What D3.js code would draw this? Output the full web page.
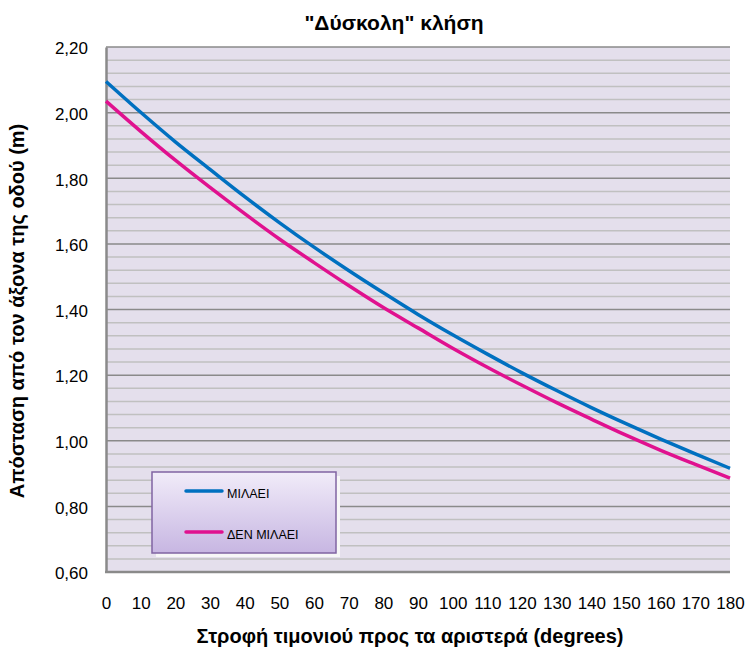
<!DOCTYPE html>
<html><head><meta charset="utf-8">
<script src="https://cdn.jsdelivr.net/npm/d3@7"></script>
<style>body{margin:0;background:#fff}svg{display:block}text{font-family:"Liberation Sans",Arial,sans-serif}</style>
</head><body>
<svg id="chart" width="745" height="649"></svg>
<script>
const degrees = [0,10,20,30,40,50,60,70,80,90,100,110,120,130,140,150,160,170,180];
const milaei = [2.095,2.001,1.911,1.827,1.744,1.665,1.590,1.519,1.451,1.385,1.323,1.264,1.207,1.153,1.101,1.052,1.005,0.960,0.916];
const denMilaei = [2.035,1.943,1.855,1.772,1.692,1.615,1.543,1.473,1.406,1.344,1.282,1.224,1.169,1.116,1.066,1.017,0.971,0.928,0.886];
const seriesNames = ["ΜΙΛΑΕΙ","ΔΕΝ ΜΙΛΑΕΙ"];
const seriesColors = ["#0070c0","#e0118f"];
const yTicks = [0.60,0.80,1.00,1.20,1.40,1.60,1.80,2.00,2.20];
const title = "\"Δύσκολη\" κλήση";
const xTitle = "Στροφή τιμονιού προς τα αριστερά (degrees)";
const yTitle = "Απόσταση από τον άξονα της οδού (m)";

const svg = d3.select("#chart");
const L=106,R=730,T=47,B=572;
const x = d3.scaleLinear().domain([0,180]).range([L,R]);
const y = d3.scaleLinear().domain([0.6,2.2]).range([B,T]);

svg.append("rect").attr("x",L).attr("y",T).attr("width",R-L).attr("height",B-T).attr("fill","#e4dfec");

// minor grid
const minor = d3.range(0.64,2.2001,0.04).filter(v=>Math.abs(Math.round(v*5)-v*5)>0.01);
svg.append("g").selectAll("line").data(minor).join("line")
  .attr("x1",L).attr("x2",R).attr("y1",d=>y(d)).attr("y2",d=>y(d))
  .attr("stroke","#c0c0c0").attr("stroke-width",1.5);
svg.append("g").selectAll("line").data(yTicks.slice(1)).join("line")
  .attr("x1",L).attr("x2",R).attr("y1",d=>y(d)).attr("y2",d=>y(d))
  .attr("stroke","#8a8a8a").attr("stroke-width",1.5);

// axes
const yAxis = d3.axisLeft(y).tickValues(yTicks).tickSize(0).tickPadding(18).tickFormat(d=>d3.format(".2f")(d).replace(".",","));
const gy = svg.append("g").attr("transform",`translate(${L},0)`).call(yAxis);
gy.select(".domain").attr("stroke","#8a8a8a").attr("stroke-width",2.5);
gy.selectAll("text").attr("font-size",17).attr("fill","#000").attr("dy","0.4em");
const xAxis = d3.axisBottom(x).tickValues(degrees).tickSize(0).tickPadding(25).tickFormat(d3.format("d"));
const gx = svg.append("g").attr("transform",`translate(0,${B})`).call(xAxis);
gx.select(".domain").remove();
gx.selectAll("text").attr("font-size",17).attr("fill","#000");
svg.append("line").attr("x1",L-1).attr("x2",R).attr("y1",B).attr("y2",B).attr("stroke","#8a8a8a").attr("stroke-width",2.5);

// lines
const line = d3.line().x((d,i)=>x(degrees[i])).y(d=>y(d)).curve(d3.curveMonotoneX);
[milaei,denMilaei].forEach((s,i)=>{
  svg.append("path").attr("d",line(s)).attr("fill","none").attr("stroke",seriesColors[i]).attr("stroke-width",3.5).attr("stroke-linejoin","round");
});

// legend
const defs = svg.append("defs");
const grad = defs.append("linearGradient").attr("id","lg").attr("x1",0).attr("y1",0).attr("x2",0).attr("y2",1);
grad.append("stop").attr("offset","0%").attr("stop-color","#f1ecf9");
grad.append("stop").attr("offset","100%").attr("stop-color","#c7b6e2");
const lx=152, ly=472, lw=184, lh=81;
svg.append("rect").attr("x",lx+4).attr("y",ly+4).attr("width",lw).attr("height",lh).attr("fill","#f7f7f7");
svg.append("rect").attr("x",lx).attr("y",ly).attr("width",lw).attr("height",lh).attr("fill","url(#lg)").attr("stroke","#8064a2").attr("stroke-width",1.5);
seriesNames.forEach((n,i)=>{
  const yy = [491,532][i];
  svg.append("line").attr("x1",186).attr("x2",222).attr("y1",yy).attr("y2",yy).attr("stroke",seriesColors[i]).attr("stroke-width",3.5).attr("stroke-linecap","round");
  svg.append("text").attr("x",227).attr("y",yy+7).attr("font-size",12.5).text(n);
});

// titles
svg.append("text").attr("x",394).attr("y",30).attr("text-anchor","middle").attr("font-size",21).attr("font-weight","bold").text(title);
svg.append("text").attr("x",410).attr("y",643).attr("text-anchor","middle").attr("font-size",20).attr("font-weight","bold").text(xTitle);
svg.append("text").attr("transform","translate(24,311) rotate(-90)").attr("text-anchor","middle").attr("font-size",20).attr("font-weight","bold").text(yTitle);
</script>
</body></html>
